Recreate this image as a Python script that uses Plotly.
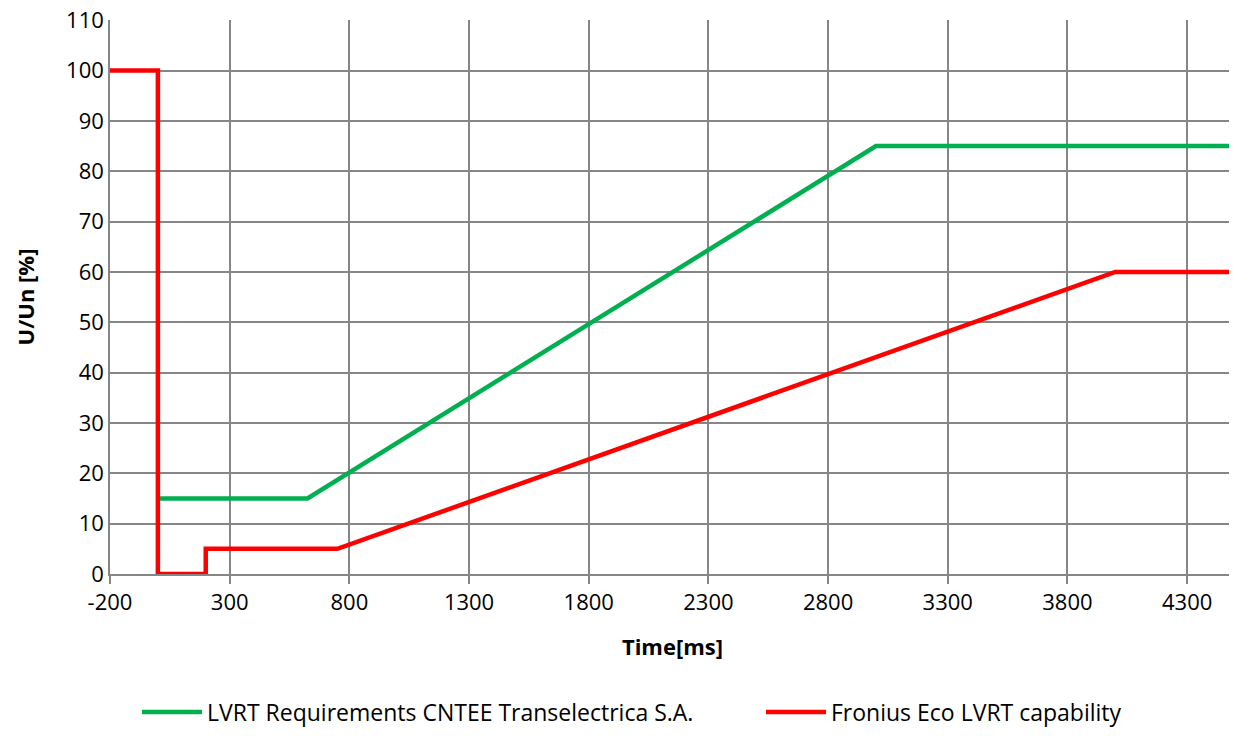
import plotly.graph_objects as go

# Data
green_name = "LVRT Requirements CNTEE Transelectrica S.A."
green_t = [0, 625, 3000, 4500]
green_u = [15, 15, 85, 85]

red_name = "Fronius Eco LVRT capability"
red_t = [-200, 0, 0, 200, 200, 750, 4000, 4500]
red_u = [100, 100, 0, 0, 5, 5, 60, 60]

x_ticks = [-200, 300, 800, 1300, 1800, 2300, 2800, 3300, 3800, 4300]
y_ticks = list(range(0, 111, 10))

FONT = "Open Sans"
GRID = "#868686"
W, H = 1229, 720

fig = go.Figure()
fig.add_trace(go.Scatter(x=green_t, y=green_u, mode="lines", name=green_name,
                         line=dict(color="#00B050", width=4.5), legend="legend"))
fig.add_trace(go.Scatter(x=red_t, y=red_u, mode="lines", name=red_name,
                         line=dict(color="#FF0000", width=4.5), legend="legend2"))

leg_common = dict(orientation="h", xref="container", yref="container",
                  xanchor="left", y=1 - 704 / H, yanchor="middle",
                  font=dict(size=23, family=FONT), itemwidth=60,
                  bgcolor="rgba(0,0,0,0)")

fig.update_layout(
    width=W, height=H,
    margin=dict(l=102, r=2, t=12, b=154),
    paper_bgcolor="white", plot_bgcolor="white",
    font=dict(family=FONT, size=22, color="black"),
    showlegend=True,
    legend=dict(x=129 / W, **leg_common),
    legend2=dict(x=753 / W, **leg_common),
)
fig.update_xaxes(
    range=[-200, 4500], tickvals=x_ticks, ticktext=[str(v) for v in x_ticks],
    showgrid=True, gridcolor=GRID, gridwidth=1.5,
    showline=True, linecolor=GRID, linewidth=1.5,
    ticks="outside", ticklen=8, tickcolor=GRID, tickwidth=1.5,
    zeroline=False, ticklabeloverflow="allow", automargin=False,
    title=dict(text="<b>Time[ms]</b>", font=dict(size=22), standoff=24),
    tickfont=dict(size=22),
)
fig.update_yaxes(
    range=[0, 110.05], tickvals=y_ticks, ticktext=[str(v) for v in y_ticks],
    showgrid=True, gridcolor=GRID, gridwidth=1.5,
    showline=True, linecolor=GRID, linewidth=1.5,
    ticks="", zeroline=False, ticklabeloverflow="allow", automargin=False,
    title=dict(text="<b>U/Un [%]</b>", font=dict(size=22), standoff=25),
    tickfont=dict(size=22),
)

fig.write_html("out.html")
